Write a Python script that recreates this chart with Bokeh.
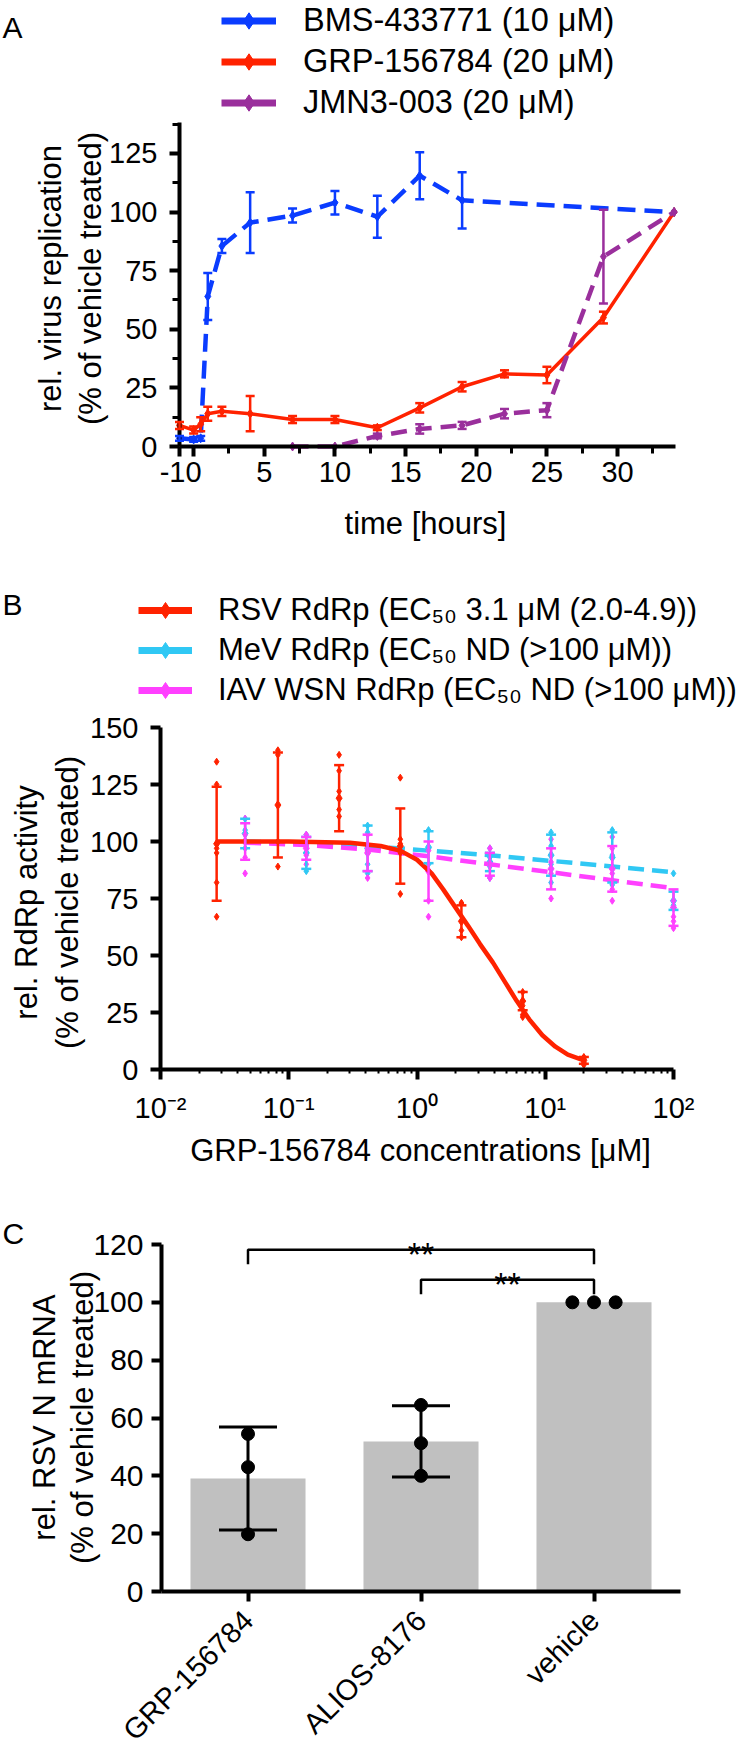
import math
from bokeh.plotting import figure
from bokeh.models import (ColumnDataSource, Range1d, FixedTicker, Legend, LegendItem,
                          Label, Whisker, TeeHead)
from bokeh.layouts import column
from bokeh.embed import file_html
from bokeh.resources import INLINE

FONT = "Liberation Sans"
W = 750
MARGIN = 0  # Bokeh's page template sets the body margin to 0
NAN = float("nan")

# ---------------- Panel A data (time course) ----------------
a_series = ["BMS-433771 (10 \u03bcM)", "GRP-156784 (20 \u03bcM)", "JMN3-003 (20 \u03bcM)"]
bms_t = [-1, 0, 0.5, 1, 2, 4, 7, 10, 13, 16, 19, 34]
bms_y = [3.5, 3, 3.5, 64, 85.5, 95.5, 98.5, 104, 98, 115.5, 105, 100]
bms_err = [1, 1, 1, 10, 3, 13, 3, 5, 9, 10, 12, 0]
grp_t = [-1, 0, 0.5, 1, 2, 4, 7, 10, 13, 16, 19, 22, 25, 29, 34]
grp_y = [9, 7, 9.5, 14, 15, 14, 11.5, 11.5, 8, 16.5, 25.5, 31, 30.5, 55, 100]
grp_err = [1.5, 1.5, 3, 3, 2, 7.5, 1.5, 1.5, 1, 2, 2, 1.5, 3.5, 2.5, 0]
jmn_t = [7, 10, 13, 16, 19, 22, 25, 29, 34]
jmn_y = [0, 0, 4.5, 7.5, 9, 14, 15.5, 81, 100]
jmn_err = [0, 0, 1, 2, 1.5, 2, 3, 20, 0]
a_xticks = [-1, 0, 5, 10, 15, 20, 25, 30]
a_xtick_labels = ["-1", "0", "5", "10", "15", "20", "25", "30"]
a_yticks = [0, 25, 50, 75, 100, 125]
a_xtitle = "time [hours]"
a_ytitle = ["rel. virus replication", "(% of vehicle treated)"]

# ---------------- Panel B data (dose response) ----------------
b_series = ["RSV RdRp (EC\u2085\u2080 3.1 \u03bcM (2.0-4.9))",
            "MeV RdRp (EC\u2085\u2080 ND (>100 \u03bcM))",
            "IAV WSN RdRp (EC\u2085\u2080 ND (>100 \u03bcM))"]
rsv_conc = [0.0274, 0.0823, 0.247, 0.741, 2.22, 6.67, 20.0]
rsv_mean = [99, 116, 119, 98, 65, 30, 4]
rsv_err = [25, 23, 14.5, 16.5, 7, 4, 1.5]
rsv_reps = [[135, 125, 97, 95, 82, 67], [140, 138, 100, 89], [138, 131, 122, 114, 111],
            [128, 101, 99, 95, 77], [73, 73, 61, 58], [34, 30, 28, 24, 23], [5.5, 4.5, 3, 2, 5]]
rsv_fit_conc = [0.0274, 0.1, 0.3, 0.52, 0.74, 1.0, 1.3, 1.6, 2.0, 2.5, 3.1, 3.9, 4.9, 6.0, 7.5, 9.5, 12, 15, 20]
rsv_fit_y = [100, 100, 99.5, 98, 96, 92, 86, 79, 71, 63, 55, 47, 38, 30, 22, 15, 10, 6.5, 4]
dil_conc = [0.0457, 0.137, 0.412, 1.23, 3.70, 11.1, 33.3, 100]
mev_mean = [103.5, 95, 97, 97.5, 91, 94, 93, 74]
mev_err = [6.5, 7, 10, 7, 4, 9, 11, 4]
mev_reps = [[110, 105, 97], [103, 95, 87], [107, 104, 90, 86], [105, 97, 90], [97, 93, 89, 84],
            [104, 98, 90, 82], [105, 94, 89, 81], [86, 72, 71]]
mev_fit_y = [100, 99.3, 98, 96, 94, 91.5, 89, 86.5]
iav_mean = [100, 97, 95, 87, 90, 88, 88, 71]
iav_err = [8, 5, 8, 13, 5, 9, 10, 8]
iav_reps = [[110, 103, 93, 86], [103, 94, 90], [103, 98, 84], [96, 74, 67], [97, 90, 84],
            [101, 91, 86, 75], [102, 97, 86, 79, 74], [74, 67, 65, 62]]
iav_fit_y = [99.5, 98.5, 96.5, 93.5, 90, 86.5, 83, 79.5]
b_xticks = [0.01, 0.1, 1, 10, 100]
b_xtick_labels = ["10\u207b\u00b2", "10\u207b\u00b9", "10\u2070", "10\u00b9", "10\u00b2"]
b_yticks = [0, 25, 50, 75, 100, 125, 150]
b_xtitle = "GRP-156784 concentrations [\u03bcM]"
b_ytitle = ["rel. RdRp activity", "(% of vehicle treated)"]

# ---------------- Panel C data (bars) ----------------
c_categories = ["GRP-156784", "ALIOS-8176", "vehicle"]
c_means = [39.1, 51.9, 100]
c_sd = [17.8, 12.3, 0]
c_reps = [[54.5, 43, 19.8], [64.5, 51.3, 40], [100, 100, 100]]
c_yticks = [0, 20, 40, 60, 80, 100, 120]
c_sig_pairs = [(0, 2), (1, 2)]
c_sig_level = [118.2, 107.8]
c_sig_text = ["**", "**"]
c_ytitle = ["rel. RSV N mRNA", "(% of vehicle treated)"]

BLUE = "#0a3cff"
RED = "#ff2200"
PURPLE = "#9a2f9c"
CYAN = "#30c8f4"
MAGENTA = "#ff40ff"
GRAY = "#c0c0c0"


# ---------- geometry helpers (page pixel anchors -> ranges spanning the canvas) ----------
def lin_range_x(v1, p1, v2, p2):
    s = (p2 - p1) / (v2 - v1)
    return v1 - (p1 - MARGIN) / s, v1 + (MARGIN + W - p1) / s


def lin_range_y(v1, q1, v2, q2, top, H):
    s = (q1 - q2) / (v2 - v1)
    return v1 - (top + H - q1) / s, v1 + (q1 - top) / s


class Geo:
    def __init__(self, top, H):
        self.top, self.H = top, H

    def sx(self, page_x):
        return page_x - MARGIN

    def sy(self, page_y):
        return self.top + self.H - page_y


def base_fig(height, x_range, y_range, x_axis_type="linear"):
    p = figure(width=W, height=height, x_range=x_range, y_range=y_range,
               x_axis_type=x_axis_type, output_backend="svg", title=None,
               toolbar_location=None, tools="")
    p.min_border = 0
    p.min_border_left = 0
    p.min_border_right = 0
    p.min_border_top = 0
    p.min_border_bottom = 0
    p.xgrid.visible = False
    p.ygrid.visible = False
    p.outline_line_color = None
    for ax in p.axis:
        ax.axis_line_width = 4
        ax.axis_line_color = "black"
        ax.major_tick_line_color = "black"
        ax.minor_tick_line_color = "black"
        ax.major_tick_line_width = 4
        ax.minor_tick_line_width = 3
        ax.major_tick_out = 10
        ax.major_tick_in = 0
        ax.minor_tick_out = 7
        ax.minor_tick_in = 0
        ax.major_label_text_font = FONT
        ax.major_label_text_color = "black"
    return p


def label(p, text, x, y, size, angle=0.0, align="left", baseline="alphabetic",
          x_units="screen", y_units="screen", x_offset=0):
    p.add_layout(Label(x=x, y=y, x_units=x_units, y_units=y_units, text=text,
                       angle=angle, text_align=align, text_baseline=baseline,
                       text_font=FONT, text_font_size=f"{size}px", text_color="black",
                       x_offset=x_offset))


def whiskers(p, xs, ys, errs, color, head, lw):
    keep = [i for i, e in enumerate(errs) if e > 0]
    src = ColumnDataSource(dict(x=[xs[i] for i in keep],
                                lo=[ys[i] - errs[i] for i in keep],
                                hi=[ys[i] + errs[i] for i in keep]))
    p.add_layout(Whisker(source=src, base="x", lower="lo", upper="hi", dimension="height",
                         level="overlay", line_color=color, line_width=lw,
                         upper_head=TeeHead(size=head, line_color=color, line_width=lw),
                         lower_head=TeeHead(size=head, line_color=color, line_width=lw)))


def reps_xy(xs, reps):
    rx, ry = [], []
    for x, r in zip(xs, reps):
        for v in r:
            rx.append(x)
            ry.append(v)
    return rx, ry


def legend_proxy(p, c):
    ln = p.line([NAN], [NAN], line_color=c, line_width=7)
    mk = p.scatter([NAN], [NAN], marker="diamond", color=c)
    return [ln, mk]


# ======================= Panel A =======================
gA = Geo(0, 560)
A_X0, A_X1, A_Y1 = -1, 34.1, 138.2
xr = lin_range_x(A_X0, 179, A_X1, 675)
yr = lin_range_y(0, 446, A_Y1, 122, gA.top, gA.H)
pA = base_fig(gA.H, Range1d(*xr), Range1d(*yr))
pA.xaxis.fixed_location = 0
pA.xaxis.bounds = (A_X0, A_X1)
pA.yaxis.fixed_location = A_X0
pA.yaxis.bounds = (0, A_Y1)
pA.xaxis.ticker = FixedTicker(ticks=a_xticks, minor_ticks=[2.5 + 5 * k for k in range(7)])
pA.yaxis.ticker = FixedTicker(ticks=a_yticks, minor_ticks=[12.5 + 25 * k for k in range(6)])
pA.xaxis.major_label_overrides = {t: ("" if t == -1 else s) for t, s in zip(a_xticks, a_xtick_labels)}
for ax in pA.axis:
    ax.major_label_text_font_size = "29px"
pA.yaxis.major_label_standoff = 12
pA.xaxis.major_label_standoff = 5

a_specs = [(bms_t, bms_y, bms_err, BLUE, "18 9", 4.5),
           (grp_t, grp_y, grp_err, RED, "solid", 3.5),
           (jmn_t, jmn_y, jmn_err, PURPLE, "16 9", 4.5)]
a_items = []
for (t, y, e, c, dash, lw), name in zip(a_specs, a_series):
    pA.line(t, y, line_color=c, line_width=lw, line_dash=dash)
    whiskers(pA, t, y, e, c, 9, 2.5)
    pA.scatter(t, y, marker="diamond", size=9, color=c)
    a_items.append(LegendItem(label=name, renderers=legend_proxy(pA, c)))

legA = Legend(items=a_items, location=(gA.sx(221), gA.sy(123)), orientation="vertical",
              glyph_width=55, glyph_height=41, label_height=41, label_standoff=27,
              spacing=0, padding=0, margin=0, border_line_color=None,
              background_fill_alpha=0, label_text_font=FONT, label_text_font_size="32.5px",
              label_text_color="black")
pA.add_layout(legA)

label(pA, "A", gA.sx(2), gA.sy(27), 30)
label(pA, a_ytitle[0], gA.sx(50), gA.sy(278), 31, angle=math.pi / 2, align="center")
label(pA, a_ytitle[1], gA.sx(90), gA.sy(278), 31, angle=math.pi / 2, align="center")
label(pA, a_xtitle, gA.sx(425), gA.sy(523), 31, align="center")
label(pA, a_xtick_labels[0], a_xticks[0], gA.sy(461), 29, align="right", baseline="top",
      x_units="data", x_offset=6)

# ======================= Panel B =======================
gB = Geo(560, 620)
lx = lin_range_x(-2, 160, 2, 673)
yr = lin_range_y(0, 1069, 150, 727, gB.top, gB.H)
pB = base_fig(gB.H, Range1d(10 ** lx[0], 10 ** lx[1]), Range1d(*yr), x_axis_type="log")
pB.xaxis.fixed_location = 0
pB.xaxis.bounds = (b_xticks[0], b_xticks[-1])
pB.yaxis.fixed_location = b_xticks[0]
pB.yaxis.bounds = (0, 150)
minor_b = [m * 10.0 ** e for e in range(-2, 2) for m in range(2, 10)]
pB.xaxis.ticker = FixedTicker(ticks=b_xticks, minor_ticks=minor_b)
pB.yaxis.ticker = FixedTicker(ticks=b_yticks)
pB.xaxis.major_label_overrides = {t: s for t, s in zip(b_xticks, b_xtick_labels)}
pB.xaxis.minor_tick_out = 4
pB.xaxis.minor_tick_line_width = 2
for ax in pB.axis:
    ax.major_label_text_font_size = "29px"
pB.yaxis.major_label_standoff = 12
pB.xaxis.major_label_standoff = 12

b_specs = [(dil_conc, mev_mean, mev_err, mev_reps, dil_conc, mev_fit_y, CYAN, "16 8"),
           (dil_conc, iav_mean, iav_err, iav_reps, dil_conc, iav_fit_y, MAGENTA, "16 8"),
           (rsv_conc, rsv_mean, rsv_err, rsv_reps, rsv_fit_conc, rsv_fit_y, RED, "solid")]
b_proxy = {}
for (cx, m, e, reps, fx, fy, c, dash) in b_specs:
    pB.line(fx, fy, line_color=c, line_width=4.5, line_dash=dash)
    whiskers(pB, cx, m, e, c, 10, 2.5)
    rx, ry = reps_xy(cx, reps)
    pB.scatter(rx, ry, marker="diamond", size=7, color=c)
    pB.scatter(cx, m, marker="diamond", size=9, color=c)
    b_proxy[c] = legend_proxy(pB, c)

b_items = [LegendItem(label=b_series[0], renderers=b_proxy[RED]),
           LegendItem(label=b_series[1], renderers=b_proxy[CYAN]),
           LegendItem(label=b_series[2], renderers=b_proxy[MAGENTA])]
legB = Legend(items=b_items, location=(gB.sx(138), gB.sy(710)), orientation="vertical",
              glyph_width=54, glyph_height=40, label_height=40, label_standoff=26,
              spacing=0, padding=0, margin=0, border_line_color=None,
              background_fill_alpha=0, label_text_font=FONT, label_text_font_size="31px",
              label_text_color="black")
pB.add_layout(legB)

label(pB, "B", gB.sx(2), gB.sy(604), 30)
label(pB, b_ytitle[0], gB.sx(26), gB.sy(902), 31, angle=math.pi / 2, align="center")
label(pB, b_ytitle[1], gB.sx(67), gB.sy(902), 31, angle=math.pi / 2, align="center")
label(pB, b_xtitle, gB.sx(420), gB.sy(1150), 31, align="center")

# ======================= Panel C =======================
gC = Geo(1180, 568)
ncat = len(c_categories)
xr = lin_range_x(0, 161, ncat, 680)
yr = lin_range_y(0, 1591, 120, 1244, gC.top, gC.H)
pC = base_fig(gC.H, Range1d(*xr), Range1d(*yr))
pC.xaxis.fixed_location = 0
pC.xaxis.bounds = (0, ncat)
pC.yaxis.fixed_location = 0
pC.yaxis.bounds = (0, 120)
c_x = [i + 0.5 for i in range(ncat)]
pC.xaxis.ticker = FixedTicker(ticks=c_x)
pC.xaxis.major_label_overrides = {x: s for x, s in zip(c_x, c_categories)}
pC.xaxis.major_label_orientation = math.pi / 4
pC.yaxis.ticker = FixedTicker(ticks=c_yticks)
pC.yaxis.major_label_text_font_size = "30px"
pC.xaxis.major_label_text_font_size = "29px"
pC.yaxis.major_label_standoff = 8
pC.xaxis.major_label_standoff = 14

pC.vbar(x=c_x, top=c_means, width=0.665, fill_color=GRAY, line_color=None)
whiskers(pC, c_x, c_means, c_sd, "black", 58, 3)

px, py = [], []
for xc, r in zip(c_x, c_reps):
    n = len(r)
    coincide = n > 1 and len(set(r)) == 1
    for k, v in enumerate(r):
        px.append(xc + ((k - (n - 1) / 2) * 0.125 if coincide else 0))
        py.append(v)
pC.scatter(px, py, size=13, color="black")

bx, by = [], []
for (i1, i2), lev in zip(c_sig_pairs, c_sig_level):
    bx.append([c_x[i1], c_x[i1], c_x[i2], c_x[i2]])
    by.append([lev - 5, lev, lev, lev - 5])
pC.multi_line(bx, by, line_color="black", line_width=2.5)
for (i1, i2), lev, s in zip(c_sig_pairs, c_sig_level, c_sig_text):
    label(pC, s, (c_x[i1] + c_x[i2]) / 2, lev - 1.5, 34, align="center",
          x_units="data", y_units="data")

label(pC, "C", gC.sx(2), gC.sy(1233), 30)
label(pC, c_ytitle[0], gC.sx(44), gC.sy(1417), 31, angle=math.pi / 2, align="center")
label(pC, c_ytitle[1], gC.sx(82), gC.sy(1417), 31, angle=math.pi / 2, align="center")

layout = column(pA, pB, pC, spacing=0)
open("out.html", "w").write(file_html(layout, INLINE, "Figure"))
